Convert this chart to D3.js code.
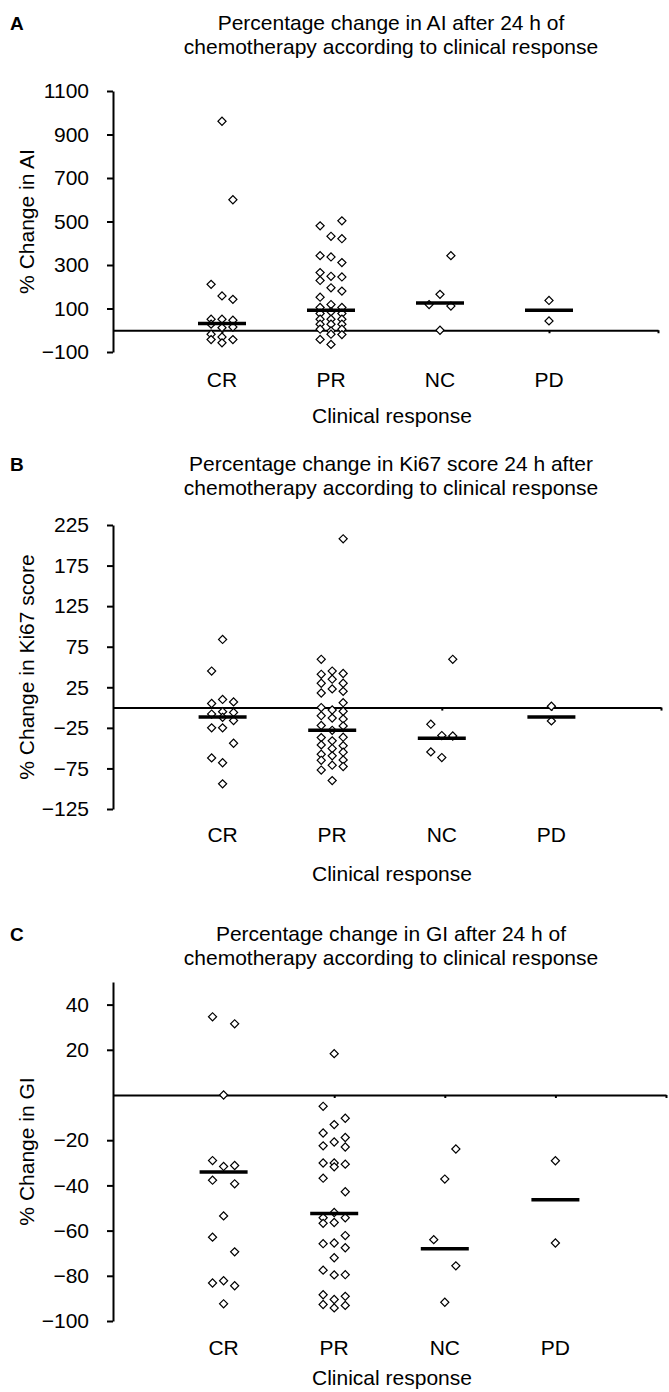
<!DOCTYPE html>
<html>
<head>
<meta charset="utf-8">
<script src="https://cdn.jsdelivr.net/npm/d3@7"></script>
<style>
  body { margin: 0; background: #fff; }
  svg { display: block; font-family: "Liberation Sans", Arial, sans-serif; }
</style>
</head>
<body>
<svg id="chart" width="669" height="1392"></svg>
<script>
// categories (x = 1..4 on the linear x scale, jitter columns at +-0.1)
const categories = ['CR', 'PR', 'NC', 'PD'];

// Panel A: % change in AI
const aiTicks = [-100, 100, 300, 500, 700, 900, 1100];
const aiMedians = [31, 92, 125, 92];
const aiPoints = [
  [1.0, 961], [1.1, 600], [0.9, 211], [1.0, 158], [1.1, 142], [0.9, 51], [1.0, 51], [1.1, 46],
  [0.9, 28], [1.0, 12], [1.1, 15], [0.9, -18], [1.0, -31], [0.9, -43], [1.1, -43], [1.0, -58],
  [2.1, 503], [1.9, 480], [2.0, 432], [2.1, 421], [1.9, 343], [2.0, 337], [2.1, 311], [1.9, 265],
  [2.0, 248], [2.1, 245], [1.9, 229], [2.0, 195], [2.1, 180], [1.9, 152], [2.0, 118], [1.9, 105],
  [2.1, 105], [2.0, 85], [1.9, 77], [2.1, 77], [1.9, 51], [2.0, 51], [2.1, 51], [1.9, 28],
  [2.0, 28], [2.1, 28], [1.9, 5], [2.1, 5], [2.0, -3], [2.0, -18], [2.1, -20], [1.9, -42], [2.0, -65],
  [3.1, 343], [3.0, 165], [2.9, 118], [3.1, 111], [3.0, 0],
  [4.0, 137], [4.0, 43]
];

// Panel B: % change in Ki67 score
const kiTicks = [-125, -75, -25, 25, 75, 125, 175, 225];
const kiMedians = [-11.5, -28, -37.8, -11.5];
const kiPoints = [
  [1.0, 84], [0.9, 45], [1.0, 10], [1.1, 7], [0.9, 5], [1.0, -5], [1.1, -6], [0.9, -8],
  [1.0, -12], [1.1, -16], [0.9, -25], [1.0, -25], [1.1, -44], [0.9, -62], [1.0, -68], [1.0, -94],
  [2.1, 208], [2.1, 42], [2.1, 30], [2.1, 20], [2.1, 6], [2.1, -4.5], [2.1, -14], [2.1, -22.6],
  [2.1, -36.5], [2.1, -47], [2.1, -55], [2.1, -64.5], [2.1, -72.7],
  [1.9, 59.5], [1.9, 41], [1.9, 30], [1.9, 18], [1.9, 0], [1.9, -10], [1.9, -22], [1.9, -37],
  [1.9, -46], [1.9, -57.5], [1.9, -65], [1.9, -77],
  [2.0, 45], [2.0, 35], [2.0, 23], [2.0, -3], [2.0, -13], [2.0, -28], [2.0, -41], [2.0, -50.5],
  [2.0, -59.5], [2.0, -71], [2.0, -90],
  [3.1, 59.5], [2.9, -20.5], [3.0, -34.5], [3.1, -35], [2.9, -54.6], [3.0, -61.6],
  [4.0, 1.6], [4.0, -16.4]
];

// Panel C: % change in GI
const giTicks = [-100, -80, -60, -40, -20, 20, 40];
const giMedians = [-34.1, -52.4, -68, -46.4];
const giPoints = [
  [0.9, 34.6], [0.9, -29], [0.9, -37.7], [0.9, -62.9], [0.9, -83.2],
  [1.0, 0], [1.0, -31.6], [1.0, -53.5], [1.0, -82.2], [1.0, -92.4],
  [1.1, 31.5], [1.1, -31.2], [1.1, -39.3], [1.1, -69.4], [1.1, -84.4],
  [2.0, 18.3], [2.0, -13.1], [2.0, -20.8], [2.0, -30.1], [2.0, -31.8], [2.0, -52], [2.0, -56.4],
  [2.0, -65.5], [2.0, -72], [2.0, -79.6], [2.0, -90.5], [2.0, -94.2],
  [1.9, -5], [1.9, -16.8], [1.9, -22.5], [1.9, -30.1], [1.9, -36.8], [1.9, -54.3], [1.9, -56.8],
  [1.9, -65.8], [1.9, -77.5], [1.9, -88.4], [1.9, -92.7],
  [2.1, -10.3], [2.1, -18.8], [2.1, -23], [2.1, -30.6], [2.1, -42.8], [2.1, -54.3], [2.1, -62.2],
  [2.1, -67.6], [2.1, -79.5], [2.1, -89.1], [2.1, -93.1],
  [3.1, -23.9], [3.0, -37.2], [2.9, -64], [3.1, -75.6], [3.0, -91.7],
  [4.0, -29.1], [4.0, -65.5]
];

const svg = d3.select('#chart');
svg.append('rect').attr('width', 669).attr('height', 1392).attr('fill', '#fff');

const font = 21;

function drawPanel(p) {
  const g = svg.append('g');

  const x = d3.scaleLinear().domain([0, 5]).range([113, p.xEnd]);
  const y = d3.scaleLinear().domain(p.domain).range([p.bottom, p.top]);

  // panel letter + title
  g.append('text')
    .attr('x', 10).attr('y', p.titleY).attr('dy', '0.35em')
    .attr('font-size', 19).attr('font-weight', 'bold')
    .text(p.letter);

  p.title.forEach((line, i) => {
    g.append('text')
      .attr('x', 391).attr('y', p.titleY + i * 24).attr('dy', '0.35em')
      .attr('text-anchor', 'middle').attr('font-size', font)
      .text(line);
  });

  // y axis
  const yAxis = d3.axisLeft(y)
    .tickValues(p.ticks)
    .tickSize(6)
    .tickSizeOuter(0)
    .tickPadding(18)
    .tickFormat(d3.format('d'));

  const ya = g.append('g')
    .attr('transform', 'translate(113,0)')
    .call(yAxis);
  ya.select('.domain').attr('stroke-width', 2);
  ya.selectAll('.tick line').attr('stroke-width', 2);
  ya.selectAll('.tick text').attr('font-size', font).attr('font-family', null).attr('fill', '#000');

  // zero line / x axis
  const xAxis = d3.axisBottom(x)
    .tickValues([1, 2, 3, 4, 5])
    .tickSize(3)
    .tickSizeOuter(0)
    .tickFormat('');

  const xa = g.append('g')
    .attr('transform', `translate(0,${y(0)})`)
    .call(xAxis);
  xa.select('.domain').attr('stroke-width', 2);
  xa.selectAll('.tick line').attr('stroke-width', 2);

  // y axis title
  const midY = (p.top + p.bottom) / 2;
  g.append('text')
    .attr('transform', `translate(27,${midY}) rotate(-90)`)
    .attr('dy', '0.35em')
    .attr('text-anchor', 'middle').attr('font-size', font)
    .text(p.yLabel);

  // category labels
  g.selectAll('.cat')
    .data(categories)
    .enter()
    .append('text')
    .attr('x', (d, i) => x(i + 1))
    .attr('y', p.catY).attr('dy', '0.35em')
    .attr('text-anchor', 'middle').attr('font-size', font)
    .text(d => d);

  g.append('text')
    .attr('x', 392).attr('y', p.xLabelY).attr('dy', '0.35em')
    .attr('text-anchor', 'middle').attr('font-size', font)
    .text('Clinical response');

  // points (open diamonds)
  const diamond = d3.symbol().type(d3.symbolSquare).size(33);
  g.selectAll('.pt')
    .data(p.points)
    .enter()
    .append('path')
    .attr('d', diamond)
    .attr('transform', d => `translate(${x(d[0])},${y(d[1])}) rotate(45)`)
    .attr('fill', '#fff')
    .attr('stroke', '#000')
    .attr('stroke-width', 1.2);

  // median bars
  g.selectAll('.med')
    .data(p.medians)
    .enter()
    .append('line')
    .attr('x1', (d, i) => x(i + 1) - 24)
    .attr('x2', (d, i) => x(i + 1) + 24)
    .attr('y1', d => y(d))
    .attr('y2', d => y(d))
    .attr('stroke', '#000')
    .attr('stroke-width', 3.5);
}

drawPanel({
  letter: 'A',
  title: ['Percentage change in AI after 24 h of', 'chemotherapy according to clinical response'],
  titleY: 23,
  yLabel: '% Change in AI',
  domain: [-100, 1100], top: 91, bottom: 352, xEnd: 658,
  ticks: aiTicks, points: aiPoints, medians: aiMedians,
  catY: 380, xLabelY: 416
});

drawPanel({
  letter: 'B',
  title: ['Percentage change in Ki67 score 24 h after', 'chemotherapy according to clinical response'],
  titleY: 464,
  yLabel: '% Change in Ki67 score',
  domain: [-125, 225], top: 525, bottom: 809, xEnd: 661,
  ticks: kiTicks, points: kiPoints, medians: kiMedians,
  catY: 835, xLabelY: 874
});

drawPanel({
  letter: 'C',
  title: ['Percentage change in GI after 24 h of', 'chemotherapy according to clinical response'],
  titleY: 934,
  yLabel: '% Change in GI',
  domain: [-100, 50], top: 982, bottom: 1321, xEnd: 666,
  ticks: giTicks, points: giPoints, medians: giMedians,
  catY: 1348, xLabelY: 1378
});
</script>
</body>
</html>
